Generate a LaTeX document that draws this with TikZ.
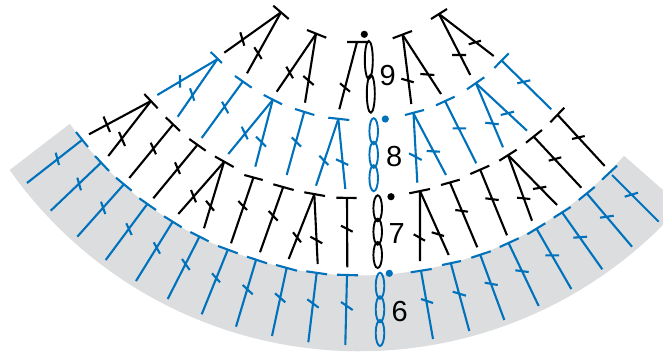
\documentclass[tikz,border=0pt]{standalone}
\usepackage{fontspec}
\setmainfont{Liberation Sans}
\definecolor{chartblue}{HTML}{0072BC}
\definecolor{bandgray}{HTML}{DCDDDF}
\tikzset{
  blk/.style={draw=black,line width=2.1pt},
  blu/.style={draw=chartblue,line width=2.1pt},
  chainblk/.style={draw=black,line width=1.9pt},
  chainblu/.style={draw=chartblue,line width=1.9pt},
  rownum/.style={font=\fontsize{29pt}{30pt}\selectfont,inner sep=0pt,text=black},
}
\newcommand{\Tst}[7]{\draw[#1] (#2)--(#3) (#4)--(#5) (#6)--(#7);}
\newcommand{\Sst}[5]{\draw[#1] (#2)--(#3) (#4)--(#5);}
\begin{document}
\begin{tikzpicture}[x=1pt,y=-1pt]
\useasboundingbox (0,0) rectangle (663,351);
\begin{scope}
\clip (0,0) rectangle (663,351);
\fill[bandgray] plot[domain=41.3:145.3,samples=60] ({359.4+352.2*cos(\x)},{-76.7+352.2*sin(\x)})
  -- plot[domain=144.8:41.3,samples=60] ({359.4+428*cos(\x)},{-76.7+428*sin(\x)}) -- cycle;
\end{scope}
% Row 6 left
\Tst{blu}{76,132}{88,147}{82,140}{27,183}{55.7,152.7}{59,165}
\Tst{blu}{95,156}{109,171}{100.7,163}{50.7,210.7}{77.3,177.7}{81,190.3}
\Tst{blu}{116,177.7}{131.7,190.7}{123.3,185}{77.3,236.7}{101,201.7}{105.3,214}
\Tst{blu}{139.3,198.3}{156,210}{147.3,204}{105.7,260}{126.3,223.3}{131.7,235}
\Tst{blu}{164,216.3}{181.7,227.3}{172.7,221.7}{136,281}{153.7,242.3}{160,253.7}
\Tst{blu}{190.3,232}{208.7,241.3}{199.3,237}{167.7,299}{182,259}{189.7,270}
\Tst{blu}{218,246}{237.7,253.3}{227.7,250}{201.7,314.3}{212,273.3}{220,282.3}
\Tst{blu}{247,256.7}{267,263.3}{256,260}{236,326.7}{242.7,285}{252.7,294.3}
\Tst{blu}{276,265}{297,270.7}{286.7,267.7}{272,336}{275,293.3}{285.3,302.3}
\Tst{blu}{306.3,271.3}{327,274.3}{316.7,272.7}{308.3,342.3}{307.3,299.3}{318.7,307.7}
\Tst{blu}{337,274.7}{358,275.3}{347,275}{345.3,345}{341,302}{352.7,310}
% Row 6 chain
\draw[chainblu] (380,285.7) ellipse (4.3pt and 13pt) (380,309.3) ellipse (4.3pt and 13pt) (380,333) ellipse (4.3pt and 13pt);
\fill[chartblue] (389.3,273.3) circle (3.6pt);
\node[rownum] (n6) at (399.8,311.7) {6};
% Row 6 right
\Tst{blu}{410.7,272.3}{431.7,269}{421,270.7}{433,339}{421,299}{433,303}
\Tst{blu}{442,265}{461,261}{451,264}{469.3,331}{452.7,291.7}{466,295.7}
\Tst{blu}{471.3,257.7}{490.7,251.3}{480.3,255}{504.3,320}{484.7,282.7}{497.7,285}
\Tst{blu}{499.7,247}{518.7,238.3}{508.7,243.3}{538.7,306}{515.3,270.3}{528.7,272}
\Tst{blu}{527.3,234.3}{545.3,223.3}{536.7,229}{571.3,289}{545.3,255.3}{559,255.3}
\Tst{blu}{553.7,217.7}{570.7,207}{562,212.3}{602.3,269.3}{573.3,237.7}{587,236.7}
\Tst{blu}{578.7,200}{594.7,187}{586.7,193.3}{632,246.7}{600,217.7}{613.7,215.7}
\Tst{blu}{602,179.7}{617,165.7}{612,175}{658.7,221.7}{624.7,196.7}{638,192.7}
% Row 7 left
\Tst{blk}{144.3,94}{157.7,108.3}{151,101}{89,134.3}{103.5,116.5}{110,132}
\Sst{blk}{151,101}{108.3,156}{119,132}{125,146}
\Tst{blk}{165.7,117.3}{180,131}{172.7,125}{129.3,178}{150.7,142.7}{156,154.3}
\Tst{blk}{189.3,139}{205.7,150.7}{197.3,145}{153.3,198.3}{175,162.3}{180,174}
\Tst{blk}{215,156.5}{233.7,167}{224,162}{178.3,214}{191,190}{196,202.3}
\Sst{blk}{224,162}{204,228.3}{206,200.7}{214,210.7}
\Tst{blk}{244.3,175}{262.7,180}{253.7,176.7}{231,243.3}{238.3,201}{247,210}
\Tst{blk}{273.3,184.3}{293.7,190}{283.3,186.7}{260,252.3}{268.7,211}{277.7,220.7}
\Tst{blk}{304.3,192.3}{325,196}{314.3,194.3}{288.7,259}{293,232.3}{301,242.3}
\Sst{blk}{314.3,194.3}{317.7,264}{310.3,236.7}{322.3,243.3}
\Tst{blk}{336.3,197.7}{356.7,198}{347,197.7}{347.3,267.3}{341,225.7}{352.7,231.7}
% Row 7 chain
\draw[chainblk] (377.7,208.3) ellipse (4.3pt and 13pt) (377.7,231.7) ellipse (4.3pt and 13pt) (377.7,255) ellipse (4.3pt and 13pt);
\fill[black] (391,196.7) circle (3.6pt);
\node[rownum] (n7) at (396.7,233.3) {7};
% Row 7 right
\Tst{blk}{409.3,193.3}{430,189}{420,191}{420,261}{413.7,234.3}{425,240.7}
\Sst{blk}{420,191}{448.7,255}{431.7,232.3}{444,236}
\Tst{blk}{441,185}{459.7,179.7}{450.3,183.3}{477.3,247.3}{455.3,210}{468,211.7}
\Tst{blk}{470.3,174}{489.3,165.7}{480.3,170}{507,235.3}{485.3,198.3}{498.7,200}
\Tst{blk}{499.3,160.7}{516.7,149.7}{508,155}{532,220.7}{517,197.7}{530.3,199}
\Sst{blk}{508,155}{557,205}{533,189}{546.3,186.7}
\Tst{blk}{526,142.7}{542,130}{533.7,136.7}{581.3,187.7}{548.7,160.7}{561.3,157.3}
\Tst{blk}{550.3,122.3}{564.3,107.7}{557.7,115}{604.7,166}{572,139}{584.7,136}
% Row 8 left
\Tst{blu}{210.7,52}{222,63}{217.3,59.3}{157.3,95}{180,75}{180,87.5}
\Sst{blu}{217.3,59.3}{177.7,116.7}{190,88.3}{194.3,100.7}
\Tst{blu}{235,76}{251.7,87.7}{242.7,81.7}{201.7,138}{222,101.7}{228.3,113.3}
\Tst{blu}{263.7,95}{282,104.3}{272.7,100}{228.3,154}{241.7,126.7}{247.7,139.3}
\Sst{blu}{272.7,100}{255.3,166.7}{256,136.7}{266,146.7}
\Tst{blu}{295,109}{314.3,115}{304.3,111.7}{286.7,175}{291.7,137.3}{301,146.7}
\Tst{blu}{328.3,117.7}{349.3,120}{338.3,119}{316,185.7}{319.3,155.7}{328.3,165}
\Sst{blu}{338.3,119}{345.3,189}{336,159.3}{348.3,165}
% Row 8 chain
\draw[chainblu] (373.7,131.2) ellipse (4.3pt and 13pt) (373.7,154.8) ellipse (4.3pt and 13pt) (373.7,178.2) ellipse (4.3pt and 13pt);
\fill[chartblue] (385.3,119) circle (3.6pt);
\node[rownum] (n8) at (394.3,156.7) {8};
% Row 8 right
\Tst{blu}{405,115}{424,110}{413.5,113.5}{417.3,182.7}{409,153.3}{421.7,160}
\Sst{blu}{413.5,113.5}{446,175}{426.7,151}{440,151.7}
\Tst{blu}{436,105.3}{454.7,96.7}{445.3,101.7}{476.3,163.3}{452.7,128.3}{466,128.3}
\Tst{blu}{467,89.3}{484.3,77.3}{476,83.3}{503,147.3}{485.3,122.7}{498.7,124.3}
\Sst{blu}{476,83.3}{527,130.7}{500.7,115}{514,111.7}
\Tst{blu}{494.3,68}{508.7,53.3}{502,61}{551.3,109.3}{517.3,83.3}{530.3,80.3}
% Row 9 left
\Tst{blk}{273.3,5.7}{288.7,19}{281,12.3}{224.3,52.7}{240.3,32.3}{244.3,45.7}
\Sst{blk}{281,12.3}{247,73.3}{254.3,47.3}{261.7,59}
\Tst{blk}{307,30}{326.3,37.7}{316,34}{276.7,91.7}{286.3,66.7}{293,78.3}
\Sst{blk}{316,34}{305,102.7}{303.3,76}{313.7,85}
\Tst{blk}{347,42}{368.7,42}{357,42}{339.3,109.3}{340,83.3}{350,91.7}
% Row 9 chain
\draw[chainblk] (368.8,60) ellipse (4pt and 19pt) (370.8,93.7) ellipse (4pt and 19pt);
\fill[black] (364.3,34.3) circle (3.6pt);
\node[rownum] (n9) at (387.7,76) {9};
% Row 9 right
\Tst{blk}{392.7,38.3}{412,31}{402.7,35}{411.3,104}{401.3,78.7}{413.7,82.3}
\Sst{blk}{402.7,35}{441,94}{420.3,74}{434.3,75}
\Tst{blk}{431,19}{447,9}{439,14}{470.3,75}{452,55}{466,55}
\Sst{blk}{439,14}{493.7,56}{468.7,44.3}{481,40.7}
\end{tikzpicture}
\end{document}
